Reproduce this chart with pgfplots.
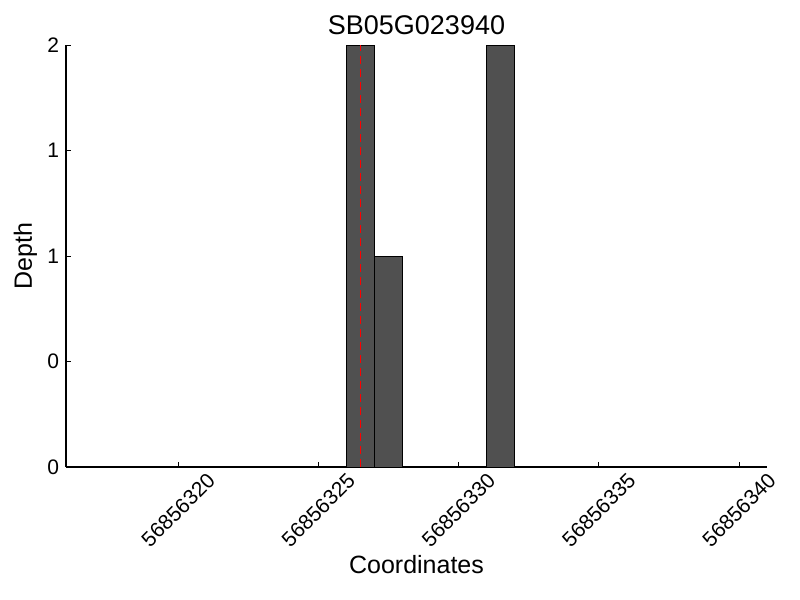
\documentclass[border=0pt]{standalone}
\usepackage{pgfplots}
\pgfplotsset{compat=1.18}
\usepackage{fontspec}
\setmainfont{Liberation Sans}
\definecolor{barfill}{RGB}{80,80,80}
\begin{document}
\begin{tikzpicture}
\useasboundingbox (-33pt,-66.5pt) rectangle (367pt,233.5pt);
\begin{axis}[
  at={(0pt,0pt)}, anchor=south west,
  width=350.5pt, height=211pt, scale only axis,
  xmin=16, xmax=41, ymin=0, ymax=2,
  axis lines*=left,
  axis line style={line width=0.6pt},
  tick align=inside, major tick length=2.5pt,
  tick style={black, line width=0.4pt},
  xtick={20,25,30,35,40},
  xticklabels={56856320,56856325,56856330,56856335,56856340},
  ytick={0,0.5,1,1.5,2},
  yticklabels={0,0,1,1,2},
  tick label style={font=\fontsize{10.5}{12}\selectfont},
  xticklabel style={yshift=-21.5pt, rotate=45, anchor=center},
  title={SB05G023940},
  title style={font=\fontsize{13.5}{16}\selectfont, yshift=-4.5pt},
  xlabel={Coordinates},
  ylabel={Depth},
  label style={font=\fontsize{12.5}{15}\selectfont},
  xlabel style={at={(axis description cs:0.5,-0.232)}, anchor=center},
  ylabel style={at={(axis description cs:-0.058,0.5)}, anchor=center},
  clip=false,
]
\addplot[ybar interval, fill=barfill, draw=black, line width=0.4pt] coordinates {(26,2) (27,1) (28,1)};
\addplot[ybar interval, fill=barfill, draw=black, line width=0.4pt] coordinates {(31,2) (32,2)};
\addplot[red, line width=0.8pt, dash pattern=on 4pt off 2.5pt] coordinates {(26.5,0) (26.5,2)};
\end{axis}
\end{tikzpicture}
\end{document}
